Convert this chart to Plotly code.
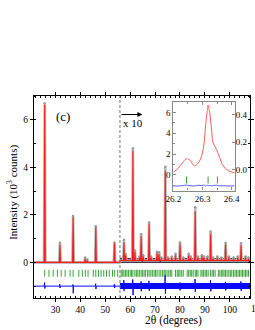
import plotly.graph_objects as go

# ---------------- data ----------------
split_angle = 55.9          # beyond this angle the pattern is shown x10
bg_low = 0.0                # background level below split
bg_high = 0.08              # background level above split (x10)

peak_pos = [25.7, 31.8, 37.1, 41.9, 42.8, 46.2, 53.7,
            57.5, 58.2, 61.1, 61.9, 63.7, 64.4, 65.2, 67.6, 68.4, 70.8, 71.6, 72.5,
            74.1, 75.2, 76.7, 78.2, 80.0, 81.3, 83.5, 84.3, 86.1, 87.2, 88.8, 89.6,
            91.0, 92.3, 93.3, 95.0, 96.6, 98.3, 99.6, 101.5, 103.2, 104.5, 106.3, 107.5]
calc_height = [6.62, 0.75, 1.90, 0.15, 0.08, 1.48, 0.80,
               0.85, 0.30, 4.70, 0.45, 0.20, 1.10, 0.25, 1.60, 0.20, 0.40, 0.35, 0.15,
               3.85, 0.15, 0.20, 0.30, 0.78, 0.15, 0.30, 0.20, 2.15, 0.20, 0.25, 0.20,
               0.20, 1.20, 0.15, 0.20, 0.15, 0.75, 0.20, 0.15, 0.20, 0.72, 0.20, 0.15]
obs_height = [6.70, 0.82, 1.95, 0.20, 0.12, 1.52, 0.84,
              0.95, 0.35, 4.80, 0.50, 0.25, 1.18, 0.30, 1.68, 0.25, 0.45, 0.42, 0.20,
              4.02, 0.20, 0.25, 0.36, 0.84, 0.20, 0.36, 0.25, 2.32, 0.25, 0.30, 0.25,
              0.25, 1.30, 0.20, 0.25, 0.20, 0.82, 0.25, 0.20, 0.25, 0.80, 0.25, 0.20]

reflections = [25.7, 27.4, 29.1, 30.8, 32.3, 33.9, 35.9, 37.1, 39.4, 40.8, 42.0, 43.1,
               45.2, 46.2, 47.3, 48.3, 49.4, 50.5, 51.6, 52.9, 53.8, 55.0,
               56.4, 57.0, 57.5, 58.1, 58.7, 59.3, 60.0, 60.5, 61.1, 61.9, 62.5, 63.1,
               63.7, 64.4, 65.0, 65.6, 66.2, 67.0, 67.6, 68.3, 68.9, 69.6, 70.2, 70.8,
               71.6, 72.3, 73.0, 73.6, 74.1, 74.8, 75.5, 76.1, 76.7, 78.2, 78.9,
               79.5, 80.0, 80.7, 81.3, 82.9, 83.5, 84.1, 84.7, 85.3, 86.1, 86.6,
               87.2, 88.4, 88.9, 89.5, 90.1, 90.7, 91.3, 92.3, 92.9, 93.5, 94.1,
               95.4, 96.0, 96.6, 97.2, 97.7, 98.3, 98.9, 99.6, 100.2, 100.8, 101.5,
               102.1, 102.7, 103.3, 103.9, 104.5, 105.1, 105.7, 106.3, 106.9, 107.5]
refl_level = -0.46

diff_level = -1.0
diff_pos = [25.7, 31.8, 37.1, 46.2, 53.7, 57.5, 61.1, 64.4, 67.6, 74.1, 80.0,
            86.1, 92.3, 98.3, 104.5]
diff_up = [-0.85, -0.92, -0.93, -0.9, -0.92, -0.75, -0.72, -0.8, -0.78, -0.55, -0.85,
           -0.7, -0.75, -0.82, -0.8]
diff_dn = [-1.1, -1.08, -1.3, -1.12, -1.08, -1.2, -1.38, -1.22, -1.2, -1.32, -1.18,
           -1.25, -1.22, -1.18, -1.2]

x_ticks = [30, 40, 50, 60, 70, 80, 90, 100]
x_last_tick = "110"
y_ticks = [0, 2, 4, 6]

# inset (26.3 deg reflection, magnified)
ins_x = [26.200, 26.217, 26.231, 26.245, 26.257, 26.272, 26.285, 26.297, 26.305,
         26.310, 26.316, 26.319, 26.325, 26.331, 26.336, 26.348, 26.359, 26.371,
         26.388, 26.410]
ins_calc = [0.25, 0.66, 1.15, 1.55, 1.42, 0.88, 1.12, 1.85, 2.96, 4.6, 6.1, 6.7,
            5.9, 4.27, 3.1, 2.45, 1.64, 0.85, 0.42, 0.2]
ins_diff = [-1.05, -1.07, -1.03, -0.98, -1.04, -1.06, -0.99, -1.03, -0.97, -1.05,
            -0.98, -1.04, -1.0, -1.06, -1.02, -0.99, -1.05, -1.04, -1.06, -1.05]
ins_refl = [26.245, 26.319, 26.351]
ins_refl_level = -0.5
ins_right_ticks = [0.0, 0.2, 0.4]
ins_x_ticks = [26.2, 26.3, 26.4]

FONT = "Liberation Serif"
RED = "#ff1a1a"
GREEN = "#3aa33a"
BLUE = "#0a0aff"
X_MIN, X_MAX = 21.4, 108.1

# ---------------- build profiles from peak tables ----------------
def base_at(x):
    return bg_low if x < split_angle else bg_high

def profile(heights, hw):
    pts = []
    for p, h in zip(peak_pos, heights):
        b = base_at(p)
        pts += [(p - hw, b), (p, h), (p + hw, b)]
    pts += [(X_MIN, bg_low), (split_angle - 0.01, bg_low),
            (split_angle + 0.01, bg_high), (X_MAX, bg_high)]
    pts.sort()
    return [a for a, _ in pts], [b for _, b in pts]

cx, cy = profile(calc_height, 0.22)
ox, oy = profile(obs_height, 0.3)

dpts = [(X_MIN, diff_level), (X_MAX, diff_level)]
for p, u, d in zip(diff_pos, diff_up, diff_dn):
    dpts += [(p - 0.2, diff_level), (p - 0.05, u), (p + 0.05, d), (p + 0.2, diff_level)]
dpts.sort()
dx = [a for a, _ in dpts]
dy = [b for _, b in dpts]

fig = go.Figure()

# background band (dense observed points)
fig.add_trace(go.Scatter(x=[X_MIN, split_angle], y=[bg_low, bg_low], mode="lines",
                         line=dict(color="#3a3a3a", width=1.6), hoverinfo="skip"))
fig.add_trace(go.Scatter(x=[split_angle, X_MAX], y=[bg_high, bg_high], mode="lines",
                         line=dict(color="#3a3a3a", width=5), hoverinfo="skip"))
# observed
fig.add_trace(go.Scatter(x=ox, y=oy, mode="lines",
                         line=dict(color="#b8b8b8", width=2.6), hoverinfo="skip"))
fig.add_trace(go.Scatter(x=peak_pos, y=obs_height, mode="markers",
                         marker=dict(color="#9a9a9a", size=2.5), hoverinfo="skip"))
# calculated
fig.add_trace(go.Scatter(x=cx, y=cy, mode="lines",
                         line=dict(color=RED, width=1.1), hoverinfo="skip"))
# reflections
fig.add_trace(go.Scatter(x=reflections, y=[refl_level] * len(reflections), mode="markers",
                         marker=dict(symbol="line-ns", size=5, color=GREEN,
                                     line=dict(color=GREEN, width=1)), hoverinfo="skip"))
# difference
fig.add_trace(go.Scatter(x=[split_angle, X_MAX], y=[diff_level, diff_level], mode="lines",
                         line=dict(color=BLUE, width=6), hoverinfo="skip"))
fig.add_trace(go.Scatter(x=dx, y=dy, mode="lines",
                         line=dict(color=BLUE, width=1), hoverinfo="skip"))

# inset
fig.add_trace(go.Scatter(x=ins_x, y=ins_calc, mode="lines", xaxis="x2", yaxis="y2",
                         line=dict(color="#ff5a5a", width=1, shape="spline"), hoverinfo="skip"))
fig.add_trace(go.Scatter(x=ins_x, y=ins_diff, mode="lines", xaxis="x2", yaxis="y2",
                         line=dict(color="#5a5aff", width=1, shape="spline"), hoverinfo="skip"))
fig.add_trace(go.Scatter(x=ins_refl, y=[ins_refl_level] * len(ins_refl), mode="markers",
                         xaxis="x2", yaxis="y2",
                         marker=dict(symbol="line-ns", size=5, color=GREEN,
                                     line=dict(color=GREEN, width=1)), hoverinfo="skip"))
fig.add_trace(go.Scatter(x=[26.3], y=[0.1], mode="markers", xaxis="x2", yaxis="y3",
                         marker=dict(opacity=0), hoverinfo="skip"))

tickfont = dict(family=FONT, size=9.5, color="black")
insfont = dict(family=FONT, size=9, color="black")

fig.update_layout(
    width=255, height=330,
    margin=dict(l=34, r=0, t=96, b=31.5),
    paper_bgcolor="white", plot_bgcolor="white",
    showlegend=False,
    font=dict(family=FONT, color="black"),
    xaxis=dict(range=[X_MIN, X_MAX], tickvals=x_ticks, ticks="outside", ticklen=3,
               tickwidth=1, tickcolor="black", showline=True, linecolor="black",
               linewidth=1, mirror="ticks", showgrid=False, zeroline=False,
               tickfont=tickfont,
               minor=dict(dtick=2, tick0=0, ticks="inside", ticklen=2,
                          tickcolor="black", showgrid=False)),
    yaxis=dict(range=[-1.5, 7], tickvals=y_ticks, ticks="outside", ticklen=3,
               tickwidth=1, tickcolor="black", showline=True, linecolor="black",
               linewidth=1, mirror="ticks", showgrid=False, zeroline=False,
               tickfont=tickfont,
               minor=dict(dtick=1, tick0=0, ticks="inside", ticklen=2,
                          tickcolor="black", showgrid=False)),
    xaxis2=dict(domain=[0.645, 0.929], anchor="y2", range=[26.2, 26.41],
                tickvals=ins_x_ticks, ticktext=["26.2", "26.3", "26.4"],
                ticks="inside", ticklen=3, tickcolor="#888888",
                showline=True, linecolor="#888888", linewidth=1.2, mirror="ticks",
                showgrid=False, zeroline=False, tickfont=insfont,
                minor=dict(dtick=0.05, tick0=26.2, ticks="inside", ticklen=2,
                           tickcolor="#888888", showgrid=False)),
    yaxis2=dict(domain=[0.532, 0.970], anchor="x2", range=[-1.5, 7],
                tickvals=y_ticks, ticks="inside", ticklen=3, tickcolor="#888888",
                showline=True, linecolor="#888888", linewidth=1.2, mirror=True,
                showgrid=False, zeroline=False, tickfont=insfont,
                minor=dict(dtick=1, tick0=0, ticks="inside", ticklen=2,
                           tickcolor="#888888", showgrid=False)),
    yaxis3=dict(overlaying="y2", side="right", anchor="x2", range=[-0.15, 0.49],
                tickvals=ins_right_ticks, ticktext=["0.0", "0.2", "0.4"],
                ticks="inside", ticklen=3, tickcolor="#888888",
                showline=False, showgrid=False, zeroline=False, tickfont=insfont),
)

fig.add_shape(type="line", xref="x", yref="y", x0=split_angle, x1=split_angle,
              y0=-1.5, y1=7, line=dict(color="#808080", width=1.1, dash="3px,2px"))

fig.add_annotation(x=64.9, y=6.22, ax=split_angle, ay=6.22, xref="x", yref="y",
                   axref="x", ayref="y", text="", showarrow=True, arrowhead=2,
                   arrowsize=1, arrowwidth=1, arrowcolor="black")
fig.add_annotation(x=61.0, y=5.85, xref="x", yref="y", text="x 10", showarrow=False,
                   font=dict(family=FONT, size=11, color="black"))
fig.add_annotation(x=32.9, y=6.14, xref="x", yref="y", text="(c)", showarrow=False,
                   font=dict(family=FONT, size=13, color="black"))
# last tick label of the x axis, cut by the picture's right edge
fig.add_annotation(x=(263 - 34) / 221, y=0, xref="paper", yref="paper", yshift=-4,
                   text=x_last_tick, showarrow=False, xanchor="center", yanchor="top",
                   font=dict(family=FONT, size=9.5, color="black"))
fig.add_annotation(x=0.6457, y=-0.111, xref="paper", yref="paper",
                   text="2θ (degrees)", showarrow=False, xanchor="center",
                   yanchor="middle", font=dict(family=FONT, size=11.5, color="black"))
fig.add_annotation(x=-0.097, y=0.521, xref="paper", yref="paper",
                   text="Intensity (10<sup>3</sup> counts)", textangle=-90,
                   showarrow=False, xanchor="center", yanchor="middle",
                   font=dict(family=FONT, size=11, color="black"))

# the page's default 8 px body margin would push the 255x330 figure off the window
fig.write_html("out.html",
               config={"displayModeBar": False},
               post_script="document.body.style.margin='0';"
                           "document.body.style.overflow='hidden';")
